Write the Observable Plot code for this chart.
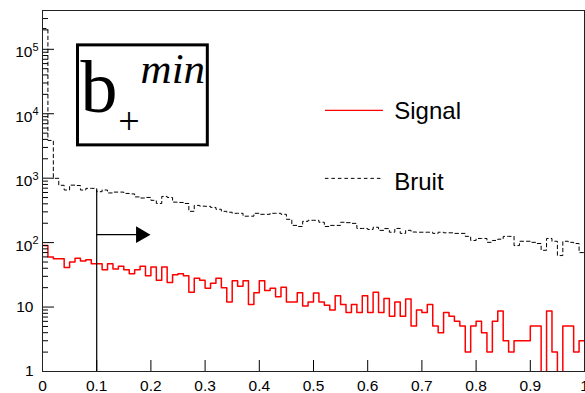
<!DOCTYPE html>
<html><head><meta charset="utf-8">
<script src="https://cdn.jsdelivr.net/npm/d3@7"></script>
<script src="https://cdn.jsdelivr.net/npm/@observablehq/plot@0.6"></script>
<style>body{margin:0;background:#fff}#chart svg{display:block}</style>
</head><body><div id="chart"></div>
<script>
const binWidth = 0.01;
const signal = [90,60,56,56,41,50,57,52,54,47,47,38,47,39,43,38,33,38,43,30.5,
  42,26,42,24,31.6,33,30.5,17,28,26,19.6,23.5,28,20,12,25.7,21,25.7,11,16.7,
  25.5,18,19.6,14.5,20.3,12,12,16.7,10.4,12,16.5,12,10.7,9,15,11,8.2,11,8.2,15,
  8.2,17,8.2,13.6,7.2,12,7.2,13.3,5.1,9,8.2,11,5.1,4,8.2,7.2,6,5.1,2,5.1,
  6,4,2,6,8.7,3,2,3,3,3,5.1,5.1,0,8.7,2,0,5.1,5.1,2,3];
const bruit = [210000,3850,995,775,655,780,770,655,695,695,617,655,590,608,608,580,570,512,492,502,
  453,405,521,502,425,420,405,306,378,368,366,352,329,306,296,285,285,257,257,285,
  275,275,285,285,275,230,185,178,214,222,222,207,178,185,185,207,204,199,166,166,
  160,173,155,165,145,166,139,155,146,145,145,145,139,145,142,142,139,139,125,108,
  116,116,101,108,113,125,125,90,105,105,101,97,76,116,105,63,105,101,97,70];
const xTicks = [0,0.1,0.2,0.3,0.4,0.5,0.6,0.7,0.8,0.9,1];
const xTickLabels = ["0","0.1","0.2","0.3","0.4","0.5","0.6","0.7","0.8","0.9","1"];
const yTicks = [1,10,100,1000,10000,100000];
const yTickBase = ["1","10","10","10","10","10"];
const yTickExp = ["","","2","3","4","5"];
const yMax = 4e5;
const yMinor = [];
for (const p of [1,10,100,1000,10000,100000]) for (let m = 2; m <= 9; m++) if (m*p <= yMax) yMinor.push(m*p);

// annotations (data units)
const cut = 0.1, cutTop = 650;
const arrowY = 133, arrowShaftEnd = 0.18, arrowHeadX = 0.1815;
const box = {x1: 0.0655, x2: 0.305, y1: 3230, y2: 115000};
const labelB = {x: 0.070, y: 10500, text: "b"};
const labelPlus = {x: 0.1596, y: 7620, text: "+"};
const labelMin = {x: 0.181, y: 29700, text: "min"};
const legendNames = ["Signal", "Bruit"];
const legendLineY = [11300, 993];
const legendTextY = [8340, 646];
const legendX = [0.522, 0.629, 0.649];

function steps(vals) {
  const pts = [];
  vals.forEach((v, i) => {
    const y = v > 0 ? v : 0.1;
    pts.push({x: i*binWidth, y}, {x: (i+1)*binWidth, y});
  });
  return pts;
}

const W = 585, H = 393, mL = 42, mR = 1, mT = 10, mB = 22;
const fw = W - mL - mR, fh = H - mT - mB;
const serif = "'Liberation Serif', 'Times New Roman', serif";

const chart = Plot.plot({
  width: W, height: H,
  marginLeft: mL, marginRight: mR, marginTop: mT, marginBottom: mB,
  x: {domain: [0, 1], axis: null},
  y: {type: "log", domain: [1, yMax], axis: null},
  style: {fontFamily: "'Liberation Sans', Arial, sans-serif", background: "white", color: "black"},
  marks: [
    Plot.line(steps(bruit), {x: "x", y: "y", stroke: "black", strokeWidth: 1, strokeDasharray: "3.5,3", clip: true}),
    Plot.line(steps(signal), {x: "x", y: "y", stroke: "#ff0000", strokeWidth: 1.5, clip: true}),
    Plot.ruleX([cut], {x: d => d, y1: 1, y2: cutTop, stroke: "black", strokeWidth: 1.2}),
    Plot.ruleY([arrowY], {y: d => d, x1: cut, x2: arrowShaftEnd, stroke: "black", strokeWidth: 1.2}),
    Plot.dot([arrowHeadX], {x: d => d, y: arrowY, symbol: "triangle", r: 6.2, rotate: 90, fill: "black", stroke: "none"}),
    Plot.rect([box], {x1: "x1", x2: "x2", y1: "y1", y2: "y2", fill: "white", stroke: "black", strokeWidth: 3}),
    Plot.text([labelB], {x: "x", y: "y", text: "text", textAnchor: "start", lineAnchor: "bottom", fontSize: 74, fontFamily: serif}),
    Plot.text([labelPlus], {x: "x", y: "y", text: "text", textAnchor: "middle", lineAnchor: "middle", fontSize: 38, fontFamily: serif}),
    Plot.text([labelMin], {x: "x", y: "y", text: "text", textAnchor: "start", lineAnchor: "bottom", fontSize: 43, fontStyle: "italic", fontFamily: serif}),
    Plot.ruleY([legendLineY[0]], {y: d => d, x1: legendX[0], x2: legendX[1], stroke: "#ff0000", strokeWidth: 1.2}),
    Plot.ruleY([legendLineY[1]], {y: d => d, x1: legendX[0], x2: legendX[1], stroke: "black", strokeWidth: 1, strokeDasharray: "3.5,3"}),
    Plot.text(legendNames, {x: legendX[2], y: (d, i) => legendTextY[i], text: d => d, textAnchor: "start", lineAnchor: "bottom", fontSize: 24}),
    Plot.tickX(xTicks, {x: d => d, insetTop: fh - 11, stroke: "black"}),
    Plot.tickY(yTicks, {y: d => d, insetRight: fw - 12, stroke: "black"}),
    Plot.tickY(yMinor, {y: d => d, insetRight: fw - 6, stroke: "black"}),
    Plot.text(xTicks, {x: d => d, text: (d, i) => xTickLabels[i], frameAnchor: "bottom", lineAnchor: "top", dy: 8, fontSize: 15.5}),
    Plot.text(yTicks, {filter: (d, i) => yTickExp[i] === "", y: d => d, text: (d, i) => yTickBase[i], frameAnchor: "left", textAnchor: "end", dx: -9, fontSize: 15.5}),
    Plot.text(yTicks, {filter: (d, i) => yTickExp[i] !== "", y: d => d, text: (d, i) => yTickBase[i], frameAnchor: "left", textAnchor: "end", dx: -10, dy: 3, fontSize: 15.5}),
    Plot.text(yTicks, {filter: (d, i) => yTickExp[i] !== "", y: d => d, text: (d, i) => yTickExp[i], frameAnchor: "left", textAnchor: "start", dx: -10, dy: -2, fontSize: 11}),
    Plot.frame({stroke: "#222", strokeWidth: 1})
  ]
});
document.getElementById("chart").appendChild(chart);
</script>
</body></html>
